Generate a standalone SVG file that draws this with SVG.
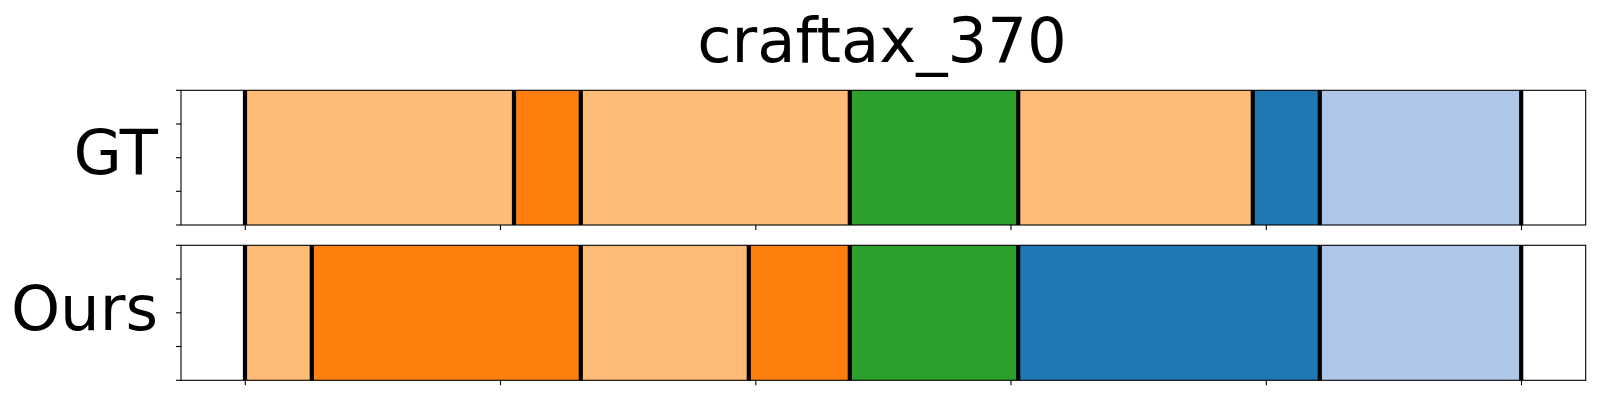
<svg xmlns="http://www.w3.org/2000/svg" width="1600" height="400" viewBox="0 0 1600 400">
<style>
text{font-family:"DejaVu Sans","Liberation Sans",sans-serif;fill:#000}
.t{font-size:62.5px;text-anchor:middle}
.l{font-size:62.5px;text-anchor:end}
.lo{fill:#ffbb78}.or{fill:#ff7f0e}.gr{fill:#2ca02c}.bl{fill:#1f77b4}.lb{fill:#aec7e8}
.sep{stroke:#000;stroke-width:4.2}
.frame{fill:none;stroke:#000;stroke-width:1.1}
.tick{stroke:#000;stroke-width:1.1}
</style>
<rect width="1600" height="400" fill="#fff"/>
<text class="t" x="882" y="62.3">craftax_370</text>
<g id="gt">
<text class="l" x="158" y="174">GT</text>
<rect class="lo" x="245" y="90.3" width="269" height="134.7"/>
<rect class="or" x="514" y="90.3" width="66.8" height="134.7"/>
<rect class="lo" x="580.8" y="90.3" width="269" height="134.7"/>
<rect class="gr" x="849.8" y="90.3" width="168.4" height="134.7"/>
<rect class="lo" x="1018.2" y="90.3" width="234.6" height="134.7"/>
<rect class="bl" x="1252.8" y="90.3" width="67" height="134.7"/>
<rect class="lb" x="1319.8" y="90.3" width="201.4" height="134.7"/>
<g class="sep">
<line x1="245" y1="90.3" x2="245" y2="225"/>
<line x1="514" y1="90.3" x2="514" y2="225"/>
<line x1="580.8" y1="90.3" x2="580.8" y2="225"/>
<line x1="849.8" y1="90.3" x2="849.8" y2="225"/>
<line x1="1018.2" y1="90.3" x2="1018.2" y2="225"/>
<line x1="1252.8" y1="90.3" x2="1252.8" y2="225"/>
<line x1="1319.8" y1="90.3" x2="1319.8" y2="225"/>
<line x1="1521.2" y1="90.3" x2="1521.2" y2="225"/>
</g>
<rect class="frame" x="181" y="90.3" width="1404.7" height="134.7"/>
<g class="tick">
<line x1="176" y1="90.3" x2="181" y2="90.3"/>
<line x1="176" y1="124" x2="181" y2="124"/>
<line x1="176" y1="157.7" x2="181" y2="157.7"/>
<line x1="176" y1="191.3" x2="181" y2="191.3"/>
<line x1="176" y1="225" x2="181" y2="225"/>
<line x1="245.3" y1="225" x2="245.3" y2="230"/>
<line x1="500.5" y1="225" x2="500.5" y2="230"/>
<line x1="755.8" y1="225" x2="755.8" y2="230"/>
<line x1="1011" y1="225" x2="1011" y2="230"/>
<line x1="1266.3" y1="225" x2="1266.3" y2="230"/>
<line x1="1521.5" y1="225" x2="1521.5" y2="230"/>
</g>
</g>
<g id="ours">
<text class="l" x="158" y="330">Ours</text>
<rect class="lo" x="245" y="245.3" width="66.8" height="135"/>
<rect class="or" x="311.8" y="245.3" width="269" height="135"/>
<rect class="lo" x="580.8" y="245.3" width="168" height="135"/>
<rect class="or" x="748.8" y="245.3" width="101" height="135"/>
<rect class="gr" x="849.8" y="245.3" width="168.4" height="135"/>
<rect class="bl" x="1018.2" y="245.3" width="301.6" height="135"/>
<rect class="lb" x="1319.8" y="245.3" width="201.4" height="135"/>
<g class="sep">
<line x1="245" y1="245.3" x2="245" y2="380.3"/>
<line x1="311.8" y1="245.3" x2="311.8" y2="380.3"/>
<line x1="580.8" y1="245.3" x2="580.8" y2="380.3"/>
<line x1="748.8" y1="245.3" x2="748.8" y2="380.3"/>
<line x1="849.8" y1="245.3" x2="849.8" y2="380.3"/>
<line x1="1018.2" y1="245.3" x2="1018.2" y2="380.3"/>
<line x1="1319.8" y1="245.3" x2="1319.8" y2="380.3"/>
<line x1="1521.2" y1="245.3" x2="1521.2" y2="380.3"/>
</g>
<rect class="frame" x="181" y="245.3" width="1404.7" height="135"/>
<g class="tick">
<line x1="176" y1="245.3" x2="181" y2="245.3"/>
<line x1="176" y1="279" x2="181" y2="279"/>
<line x1="176" y1="312.8" x2="181" y2="312.8"/>
<line x1="176" y1="346.5" x2="181" y2="346.5"/>
<line x1="176" y1="380.3" x2="181" y2="380.3"/>
<line x1="245.3" y1="380.3" x2="245.3" y2="385.3"/>
<line x1="500.5" y1="380.3" x2="500.5" y2="385.3"/>
<line x1="755.8" y1="380.3" x2="755.8" y2="385.3"/>
<line x1="1011" y1="380.3" x2="1011" y2="385.3"/>
<line x1="1266.3" y1="380.3" x2="1266.3" y2="385.3"/>
<line x1="1521.5" y1="380.3" x2="1521.5" y2="385.3"/>
</g>
</g>
</svg>
